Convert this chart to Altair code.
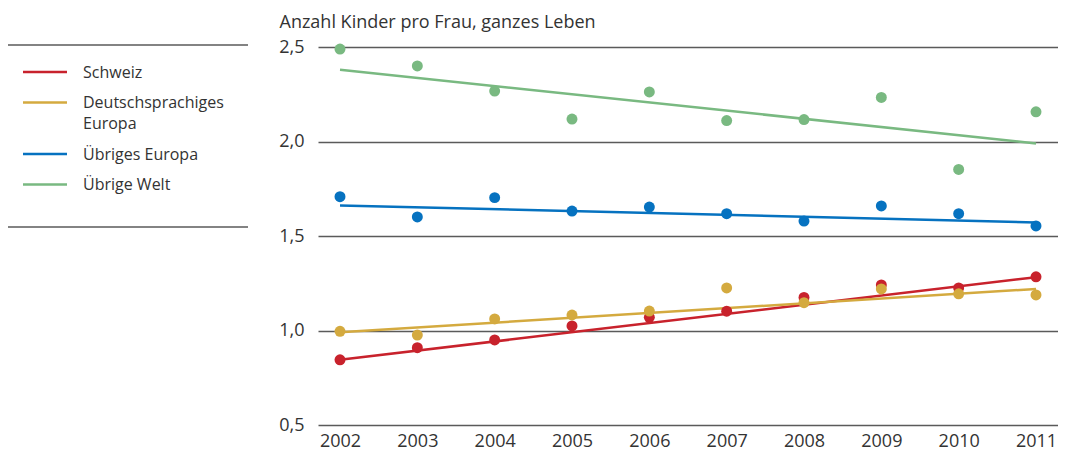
import altair as alt
import pandas as pd

# ---------------- data ----------------
years = list(range(2002, 2012))
series_names = ["Schweiz", "Deutschsprachiges Europa", "Übriges Europa", "Übrige Welt"]
legend_labels = ["Schweiz", "Deutschsprachiges\nEuropa", "Übriges Europa", "Übrige Welt"]
colors = ["#c8222c", "#d4aa3f", "#0672c0", "#79b981"]

schweiz = [0.845, 0.909, 0.950, 1.024, 1.070, 1.102, 1.175, 1.241, 1.225, 1.284]
deutsch = [0.996, 0.976, 1.061, 1.082, 1.103, 1.225, 1.147, 1.220, 1.194, 1.188]
europa = [1.708, 1.601, 1.703, 1.632, 1.653, 1.618, 1.579, 1.659, 1.618, 1.553]
welt = [2.489, 2.400, 2.267, 2.119, 2.262, 2.111, 2.116, 2.233, 1.852, 2.157]

# trend lines (value at first and last year)
trend_start = [0.845, 0.991, 1.662, 2.380]
trend_end = [1.282, 1.220, 1.572, 1.990]

y_ticks = [0.5, 1.0, 1.5, 2.0, 2.5]
axis_title = "Anzahl Kinder pro Frau, ganzes Leben"

# ---------------- tables ----------------
values = dict(zip(series_names, [schweiz, deutsch, europa, welt]))
draw_order = ["Übrige Welt", "Übriges Europa", "Schweiz", "Deutschsprachiges Europa"]
points_df = pd.DataFrame(
    [
        {"year": yr, "value": v, "series": s, "z": draw_order.index(s)}
        for s in draw_order
        for yr, v in zip(years, values[s])
    ]
)
trend_rows = []
for s, a, b in zip(series_names, trend_start, trend_end):
    trend_rows.append({"year": years[0], "value": a, "series": s})
    trend_rows.append({"year": years[-1], "value": b, "series": s})
trend_df = pd.DataFrame(trend_rows)
legend_df = pd.DataFrame({"series": series_names, "label": legend_labels})
one_df = pd.DataFrame({"k": [0]})

TEXT = "#333333"
GRID = "#5a5a5a"

color = alt.Color(
    "series:N", scale=alt.Scale(domain=series_names, range=colors), legend=None
)

x = alt.X(
    "year:Q",
    scale=alt.Scale(domain=[2001.7155, 2011.2845], nice=False, zero=False),
    axis=alt.Axis(
        values=years,
        format="d",
        title=None,
        grid=False,
        domain=False,
        ticks=False,
        tickSize=0,
        labelPadding=7,
        labelFontSize=18,
        labelColor=TEXT,
    ),
)
y = alt.Y(
    "value:Q",
    scale=alt.Scale(domain=[0.5, 2.5], nice=False, zero=False),
    axis=alt.Axis(
        values=y_ticks,
        labelExpr="replace(format(datum.value, '.1f'), '.', ',')",
        grid=True,
        gridColor=GRID,
        gridWidth=1.4,
        domain=False,
        ticks=False,
        tickSize=0,
        labelPadding=14,
        labelFontSize=18,
        labelColor=TEXT,
        title=axis_title,
        titleAngle=0,
        titleAlign="left",
        titleBaseline="alphabetic",
        titleX=-39,
        titleY=-20,
        titleFontSize=18,
        titleFontWeight="normal",
        titleColor=TEXT,
    ),
)

lines = alt.Chart(trend_df).mark_line(strokeWidth=2.5).encode(x=x, y=y, color=color)
points = (
    alt.Chart(points_df)
    .mark_circle(size=120, opacity=1)
    .encode(x=x, y=y, color=color, order="z:Q")
)
main = alt.layer(lines, points)

# ---------------- legend (left) ----------------
legend_base = (
    alt.Chart(legend_df)
    .transform_calculate(extra="length(split(datum.label, '\\n')) - 1")
    .transform_window(idx="row_number()", cum="sum(extra)", frame=[None, 0])
    .transform_calculate(pos="(datum.idx - 1) * 30.5 + (datum.cum - datum.extra) * 21")
)
ly = alt.Y("pos:Q", scale=alt.Scale(domain=[0, 100], range=[25, 125]), axis=None)
legend_lines = legend_base.mark_rule(strokeWidth=2.5).encode(
    x=alt.value(-295), x2=alt.value(-251), y=ly, color=color
)
legend_text = legend_base.mark_text(
    align="left",
    baseline="top",
    dy=-7.5,
    fontSize=16,
    lineBreak="\n",
    lineHeight=21,
    color=TEXT,
).encode(x=alt.value(-235), y=ly, text="label:N")
rule_top = alt.Chart(one_df).mark_rule(color=GRID, strokeWidth=1.4).encode(
    x=alt.value(-310), x2=alt.value(-70), y=alt.value(-2)
)
rule_bottom = alt.Chart(one_df).mark_rule(color=GRID, strokeWidth=1.4).encode(
    x=alt.value(-310), x2=alt.value(-70), y=alt.value(180)
)
legend = alt.layer(legend_lines, legend_text, rule_top, rule_bottom)

chart = (
    alt.layer(main, legend)
    .resolve_scale(y="independent")
    .properties(
        width=740,
        height=378,
        autosize=alt.AutoSizeParams(type="none"),
        padding={"left": 310, "top": 39, "right": 0, "bottom": 26},
    )
    .configure(font="Open Sans")
    .configure_view(stroke=None)
)

chart.save("out.html", embed_options={"renderer": "svg", "actions": False})
